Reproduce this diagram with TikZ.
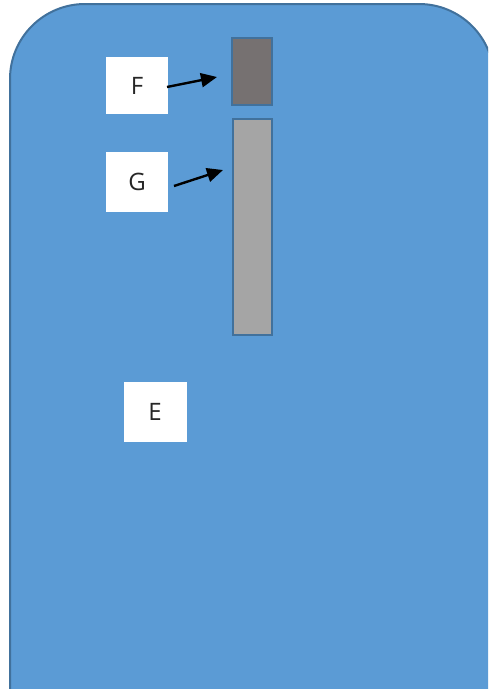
\documentclass[tikz,border=0pt]{standalone}
\usepackage{fontspec}
\setmainfont{Open Sans}
\usetikzlibrary{arrows.meta}
\definecolor{bodyblue}{HTML}{5B9BD5}
\definecolor{edgeblue}{HTML}{41719C}
\definecolor{darkgray}{HTML}{767171}
\definecolor{lightgray}{HTML}{A5A5A5}
\tikzset{
  label box/.style={fill=white, draw=none, inner sep=0pt, font=\fontsize{24}{28}\selectfont, text=black!85},
  part/.style={draw=edgeblue, line width=2pt},
  pointer/.style={draw=black, line width=2.4pt, -{Triangle[length=16pt,width=14pt]}}
}
\begin{document}
\begin{tikzpicture}[x=1pt,y=-1pt]
\useasboundingbox (0,0) rectangle (488,689);
\begin{scope}
\clip (0,0) rectangle (488,689);
\fill[white] (0,0) rectangle (488,689);
\draw[fill=bodyblue, draw=edgeblue, line width=2pt]
  (10,700) -- (10,79) arc[start angle=180, end angle=270, radius=75] -- (419,4)
  arc[start angle=270, end angle=360, radius=75] -- (494,700);
\end{scope}
\node[part, fill=darkgray, minimum width=40pt, minimum height=67pt, inner sep=0pt] (frect) at (251.5,71) {};
\node[part, fill=lightgray, minimum width=39pt, minimum height=216pt, inner sep=0pt] (grect) at (252,226.5) {};
\node[label box, minimum width=62pt, minimum height=57pt] (F) at (137,85.5) {F};
\node[label box, minimum width=62pt, minimum height=60pt] (G) at (137,182) {G};
\node[label box, minimum width=63pt, minimum height=60pt] (E) at (155,412) {E};
\coordinate (fa) at (167,87);
\coordinate (ga) at (174,186);
\draw[pointer] (fa) -- (217,77);
\draw[pointer] (ga) -- (223,170);
\end{tikzpicture}
\end{document}
